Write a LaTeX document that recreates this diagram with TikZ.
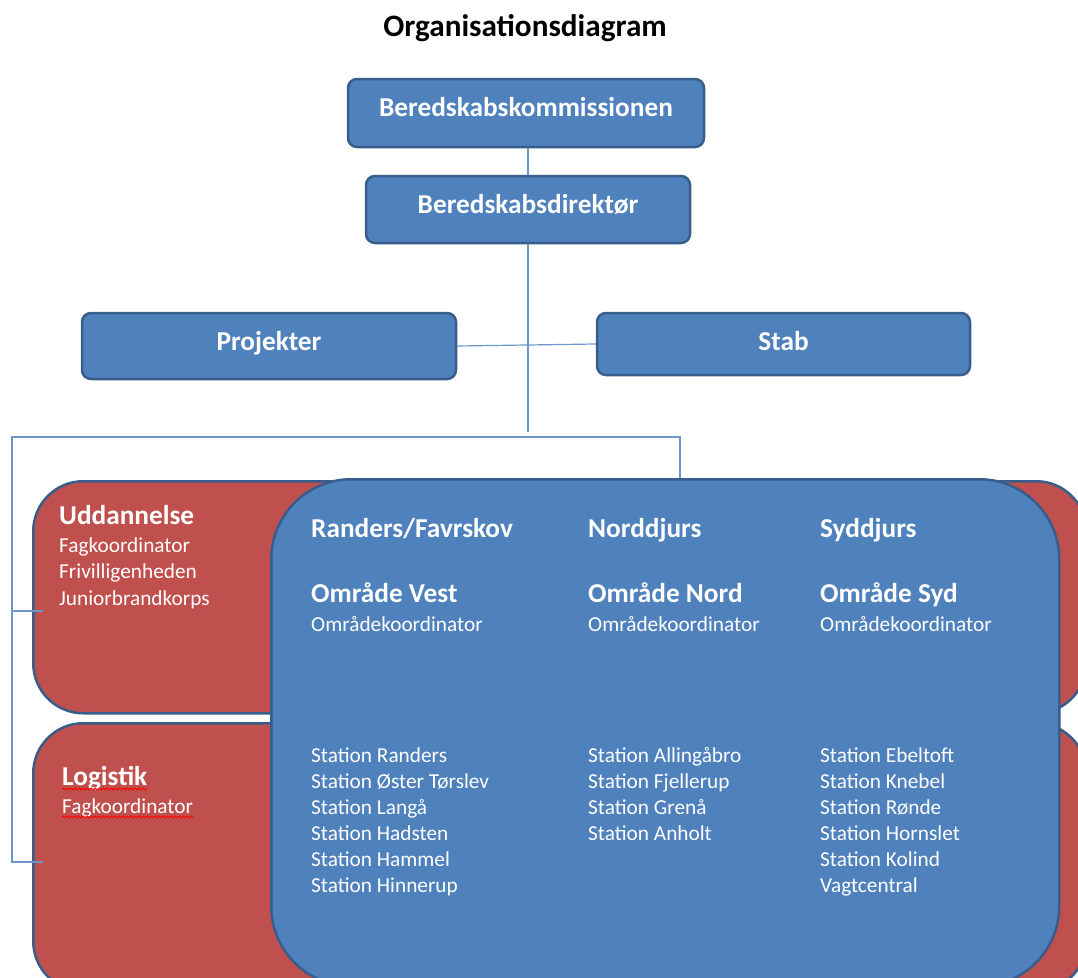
\documentclass[tikz,border=0pt]{standalone}
\usepackage{fontspec}
\setmainfont{Carlito}
\usetikzlibrary{positioning,decorations.pathmorphing}
\definecolor{orgblue}{RGB}{79,129,189}
\definecolor{orgborder}{RGB}{56,93,138}
\definecolor{orgred}{RGB}{192,80,77}
\definecolor{orgline}{RGB}{110,150,205}
\tikzstyle{topbox} = [rectangle, rounded corners=9pt, draw=orgborder, line width=2.5pt, fill=orgblue, text=white, font=\fontsize{27.3}{32}\selectfont\bfseries, text height=17.4pt, text depth=12pt, inner sep=0pt]
\tikzstyle{regionred} = [rectangle, rounded corners=50pt, draw=orgborder, line width=2.5pt, fill=orgred, inner sep=0pt]
\tikzstyle{regionblue} = [rectangle, rounded corners=80pt, draw=orgborder, line width=2.5pt, fill=orgblue, inner sep=0pt]
\tikzstyle{headtext} = [inner sep=0pt, anchor=base west, text=white, font=\fontsize{27.3}{32}\selectfont\bfseries]
\tikzstyle{itemtext} = [inner sep=0pt, anchor=base west, text=white, font=\fontsize{21.3}{26}\selectfont]
\tikzstyle{link} = [line width=1.2pt, draw=orgline]
\tikzstyle{spellmark} = [draw=red, line width=0.8pt, decorate, decoration={snake, amplitude=1pt, segment length=4pt}]

\begin{document}
\begin{tikzpicture}[x=1pt, y=-1pt]
\useasboundingbox (0,0) rectangle (1078,977);
\clip (0,0) rectangle (1078,977);

% Title
\node[font=\fontsize{31.2}{36}\selectfont\bfseries, inner sep=0pt, anchor=base] (title) at (525,36) {Organisationsdiagram};

% Management
\node[topbox, minimum width=356pt, minimum height=68pt, text depth=11pt] (kommission) at (526,113) {Beredskabskommissionen};
\node[topbox, minimum width=324pt, minimum height=67pt, text depth=10pt] (direktor) at (528,209.5) {Beredskabsdirektør};
\node[topbox, minimum width=374pt, minimum height=66pt, text depth=9pt] (projekter) at (269,346) {Projekter};
\node[topbox, minimum width=373pt, minimum height=62pt, text depth=5pt] (stab) at (783.5,344) {Stab};

\coordinate (hub) at (528,432);
\draw[link] (direktor.north) -- (direktor.north |- kommission.south);
\draw[link] (direktor.south) -- (hub);
\draw[link] (projekter.east) -- (stab.west);

% Regions
\node[regionred, minimum width=1053pt, minimum height=232pt, anchor=north west] (uddannelse) at (32,480) {};
\node[regionred, minimum width=1053pt, minimum height=268pt, anchor=north west] (logistik) at (32,722) {};
\node[regionblue, minimum width=788pt, minimum height=507pt, anchor=north west] (omraader) at (270,478) {};

% Bus to the regions
\coordinate (busL) at (12,437);
\coordinate (busR) at (680,437);
\coordinate (uddtick) at (43,611);
\coordinate (logtick) at (43,862);
\draw[link] (omraader.north -| busR) -- (busR) -- (busL) |- (logtick);
\draw[link] (busL |- uddtick) -- (uddtick);

% Uddannelse
\node[headtext] (uddhead) at (59,524) {Uddannelse};
\foreach \txt [count=\i] in {Fagkoordinator, Frivilligenheden, Juniorbrandkorps}
  \node[itemtext] (udd\i) at (59,{552+26.5*(\i-1)}) {\txt};

% Logistik
\node[headtext] (loghead) at (62,785) {Logistik};
\node[itemtext] (log1) at (62,813) {Fagkoordinator};
\draw[spellmark] ([yshift=-4pt]loghead.base west) -- ([yshift=-4pt]loghead.base east);
\draw[spellmark] ([yshift=-4pt]log1.base west) -- ([yshift=-4pt]log1.base east);

% Omraade Vest
\node[headtext] (vesthead) at (311,537) {Randers/Favrskov};
\node[headtext] (vestarea) at (311,602) {Område Vest};
\node[itemtext] (vestkoord) at (311,631) {Områdekoordinator};
\foreach \st [count=\i] in {Station Randers, Station Øster Tørslev, Station Langå, Station Hadsten, Station Hammel, Station Hinnerup}
  \node[itemtext] (vest\i) at (311,{762+26*(\i-1)}) {\st};

% Omraade Nord
\node[headtext] (nordhead) at (588,537) {Norddjurs};
\node[headtext] (nordarea) at (588,602) {Område Nord};
\node[itemtext] (nordkoord) at (588,631) {Områdekoordinator};
\foreach \st [count=\i] in {Station Allingåbro, Station Fjellerup, Station Grenå, Station Anholt}
  \node[itemtext] (nord\i) at (588,{762+26*(\i-1)}) {\st};

% Omraade Syd
\node[headtext] (sydhead) at (820,537) {Syddjurs};
\node[headtext] (sydarea) at (820,602) {Område Syd};
\node[itemtext] (sydkoord) at (820,631) {Områdekoordinator};
\foreach \st [count=\i] in {Station Ebeltoft, Station Knebel, Station Rønde, Station Hornslet, Station Kolind, Vagtcentral}
  \node[itemtext] (syd\i) at (820,{762+26*(\i-1)}) {\st};
\end{tikzpicture}
\end{document}
